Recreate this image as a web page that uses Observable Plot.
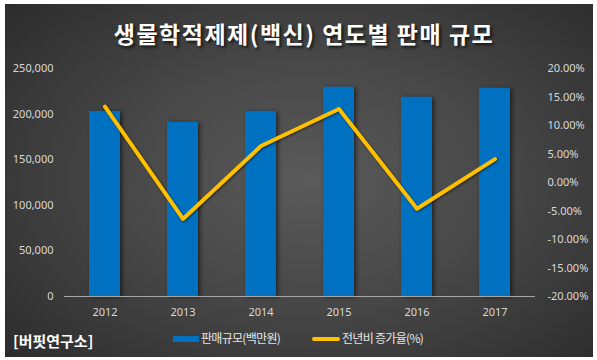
<!DOCTYPE html>
<html>
<head>
<meta charset="utf-8">
<script src="https://cdn.jsdelivr.net/npm/d3@7"></script>
<script src="https://cdn.jsdelivr.net/npm/@observablehq/plot@0.6"></script>
<style>
  html, body { margin: 0; padding: 0; background: #ffffff; }
  #frame {
    position: absolute; left: 5px; top: 4px; width: 588px; height: 353px;
    background: radial-gradient(ellipse 70% 75% at 52% 50%, #5a5a5a 0%, #484848 45%, #2c2c2c 100%);
    overflow: hidden;
  }
  #wrap { position: absolute; left: 0; top: 0; width: 597px; height: 360px; font-family: "Noto Sans CJK KR", "Noto Sans", sans-serif; }
  #title {
    position: absolute; left: 0; width: 608px; top: 19px; text-align: center;
    font-size: 23px; font-weight: bold; color: #ffffff; letter-spacing: 1.5px;
    text-shadow: 2px 2px 3px rgba(0,0,0,0.7); line-height: 28px;
  }
  #chart { position: absolute; left: 0; top: 55px; }
  #chart g[aria-label="bar"] { filter: drop-shadow(2px 1px 2px rgba(0,0,0,0.55)); }
  #chart g[aria-label="line"] { filter: drop-shadow(1px 1px 1px rgba(0,0,0,0.5)); }
  .leg { position: absolute; top: 330px; font-size: 12px; color: #e6e6e6; letter-spacing: -0.7px; line-height: 16px; }
  .sw { position: absolute; }
  #source { position: absolute; left: 13px; top: 331px; font-size: 15px; font-weight: bold; color: #ffffff; line-height: 20px; }
</style>
</head>
<body>
<div id="frame"></div>
<div id="wrap">
  <div id="title">생물학적제제(백신) 연도별 판매 규모</div>
  <div id="chart"></div>
  <div class="sw" style="left:173px; top:336px; width:26px; height:6px; background:#0070C0;"></div>
  <div class="leg" style="left:201px;">판매규모(백만원)</div>
  <div class="sw" style="left:312px; top:337px; width:28px; height:4px; border-radius:2px; background:#FFC000;"></div>
  <div class="leg" style="left:342px;">전년비 증가율(%)</div>
  <div id="source">[버핏연구소]</div>
</div>
<script>
const years = ["2012", "2013", "2014", "2015", "2016", "2017"];
const sales = [203000, 191000, 203000, 229500, 218500, 228500];
const growth = [13.3, -6.4, 6.4, 12.9, -4.6, 4.1];
const leftTicks = [0, 50000, 100000, 150000, 200000, 250000];
const rightTicks = [-20, -15, -10, -5, 0, 5, 10, 15, 20];

const yMax = 250000;
const pMin = -20, pMax = 20;
const toY = p => (p - pMin) / (pMax - pMin) * yMax;
const fromY = v => v / yMax * (pMax - pMin) + pMin;

const data = years.map((y, i) => ({year: y, sales: sales[i], growth: growth[i]}));

const chart = Plot.plot({
  width: 597,
  height: 270,
  marginTop: 13,
  marginBottom: 29,
  marginLeft: 64,
  marginRight: 62,
  style: {background: "transparent", color: "#d9d9d9", fontFamily: "'Noto Sans', sans-serif", fontSize: "11px"},
  x: {domain: years, paddingInner: 0.6, paddingOuter: 0.3, label: null},
  y: {domain: [0, yMax], label: null},
  marks: [
    Plot.axisX({tickSize: 0, tickPadding: 12, label: null, fill: "#d9d9d9"}),
    Plot.axisY(leftTicks, {anchor: "left", tickSize: 0, tickPadding: 11, tickFormat: d3.format(","), label: null, fill: "#d9d9d9"}),
    Plot.axisY(rightTicks.map(toY), {anchor: "right", tickSize: 0, tickPadding: 12, tickFormat: d => fromY(d).toFixed(2) + "%", label: null, fill: "#d9d9d9"}),
    Plot.barY(data, {x: "year", y: "sales", fill: "#0070C0"}),
    Plot.ruleY([0], {stroke: "#a6a6a6", strokeWidth: 1}),
    Plot.line(data, {x: "year", y: d => toY(d.growth), stroke: "#FFC000", strokeWidth: 4, strokeLinejoin: "round", strokeLinecap: "round"})
  ]
});
document.getElementById("chart").appendChild(chart);
</script>
</body>
</html>
